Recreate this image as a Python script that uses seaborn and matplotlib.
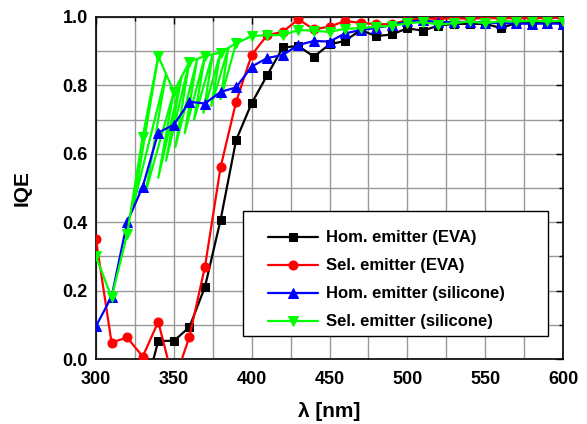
import matplotlib
matplotlib.use("Agg")
import matplotlib.pyplot as plt
import seaborn as sns
import pandas as pd
from matplotlib.ticker import MultipleLocator, FormatStrFormatter
from matplotlib.patches import Rectangle

# ---- data ----
wavelength = list(range(300, 601, 10))
hom_eva = [-0.30, -0.30, -0.25, -0.12, 0.053, 0.053, 0.093, 0.211, 0.406, 0.64,
           0.748, 0.83, 0.911, 0.915, 0.884, 0.92, 0.93, 0.962, 0.944, 0.949,
           0.967, 0.96, 0.975, 0.98, 0.98, 0.98, 0.968, 0.982, 0.983, 0.985, 0.985]
sel_eva = [0.35, 0.048, 0.063, 0.007, 0.109, -0.07, 0.065, 0.27, 0.56, 0.752,
           0.889, 0.947, 0.957, 0.993, 0.964, 0.972, 0.988, 0.983, 0.979, 0.979,
           0.991, 0.996, 0.995, 0.996, 0.995, 0.997, 0.996, 0.997, 0.996, 0.997, 0.997]
hom_sil = [0.096, 0.182, 0.40, 0.504, 0.662, 0.685, 0.752, 0.747, 0.781, 0.794,
           0.855, 0.88, 0.889, 0.918, 0.93, 0.928, 0.952, 0.962, 0.968, 0.976,
           0.987, 0.99, 0.985, 0.985, 0.986, 0.983, 0.982, 0.981, 0.98, 0.981, 0.98]
sel_sil = [0.30, 0.18, 0.365, 0.65, 0.885, 0.782, 0.869, 0.886, 0.896, 0.923,
           0.944, 0.947, 0.947, 0.962, 0.96, 0.956, 0.966, 0.967, 0.972, 0.974,
           0.982, 0.985, 0.978, 0.982, 0.987, 0.982, 0.988, 0.987, 0.989, 0.987, 0.989]
# unmarked zig-zag trace of the green curve (drawn in recorded order)
sel_sil_trace_x = [340, 324, 345, 332, 350, 340, 355, 345, 360, 351, 365,
                   357, 370, 363, 375, 369, 380, 374, 385, 380, 390]
sel_sil_trace_y = [0.885, 0.45, 0.833, 0.49, 0.782, 0.53, 0.826, 0.58, 0.869, 0.62, 0.877,
                   0.66, 0.886, 0.70, 0.891, 0.72, 0.896, 0.74, 0.909, 0.76, 0.923]
series_labels = ["Hom. emitter (EVA)", "Sel. emitter (EVA)",
                 "Hom. emitter (silicone)", "Sel. emitter (silicone)"]

sns.set_style("white")
plt.rcParams['font.family'] = ['Liberation Sans', 'DejaVu Sans']
plt.rcParams['font.weight'] = 'bold'
for k in ['text.color', 'axes.labelcolor', 'xtick.color', 'ytick.color']:
    plt.rcParams[k] = 'black'

fig = plt.figure(figsize=(5.87, 4.24), dpi=100)
ax = fig.add_axes([96/587, 1 - 359/424, (563 - 96)/587, (359 - 17)/424])

colors = ["#000000", "#ff0000", "#0000ff", "#00ff00"]
markers = ["s", "o", "^", "v"]
msizes = [5.5, 6.5, 7, 7]
series = [hom_eva, sel_eva, hom_sil, sel_sil]

# zig-zag trace first (under the marked lines)
sns.lineplot(x=sel_sil_trace_x, y=sel_sil_trace_y, sort=False, estimator=None,
             color=colors[3], lw=1.6, ax=ax, legend=False, zorder=2)

for vals, c, m, ms, lab in zip(series, colors, markers, msizes, series_labels):
    df = pd.DataFrame({"x": wavelength, "y": vals})
    sns.lineplot(data=df, x="x", y="y", color=c, marker=m, markersize=ms,
                 markeredgecolor=c, lw=1.6, label=lab, ax=ax, zorder=3)

ax.set_xlim(300, 600)
ax.set_ylim(0, 1.0)
ax.xaxis.set_major_locator(MultipleLocator(50))
ax.xaxis.set_minor_locator(MultipleLocator(25))
ax.yaxis.set_major_locator(MultipleLocator(0.2))
ax.yaxis.set_minor_locator(MultipleLocator(0.1))
ax.yaxis.set_major_formatter(FormatStrFormatter('%.1f'))
ax.grid(True, which='both', color='#999999', lw=1.0, zorder=0)
ax.set_axisbelow(True)
ax.tick_params(which='both', direction='in', top=True, right=True,
               labelsize=13, width=1, color='black', labelcolor='black')
ax.tick_params(which='major', length=5)
ax.tick_params(which='minor', length=3)
ax.tick_params(axis='x', which='major', pad=9)
ax.tick_params(axis='y', which='major', pad=6)
for lab in ax.get_xticklabels() + ax.get_yticklabels():
    lab.set_fontweight('bold')
for sp in ax.spines.values():
    sp.set_color('black')
    sp.set_linewidth(1.2)

ax.set_xlabel("λ [nm]", fontsize=15, fontweight='bold', labelpad=10, color='black')
ax.set_ylabel("IQE", fontsize=15, fontweight='bold', labelpad=22, color='black')

# legend box frame (Origin-style, extra room on the right)
ax.add_patch(Rectangle((0.3148, 0.0673), 0.968 - 0.3148, 0.4327 - 0.0673,
                       transform=ax.transAxes, facecolor='white', edgecolor='black',
                       lw=1.0, zorder=5))
leg = ax.legend(loc='upper left', bbox_to_anchor=(0.368, 0.376), frameon=False,
                fontsize=12, handlelength=3.0, labelspacing=0.78, borderpad=0.0,
                handletextpad=0.5, borderaxespad=0.0)
leg.set_zorder(6)
for t in leg.get_texts():
    t.set_fontweight('bold')
    t.set_color('black')

fig.savefig("out.png", dpi=100)
